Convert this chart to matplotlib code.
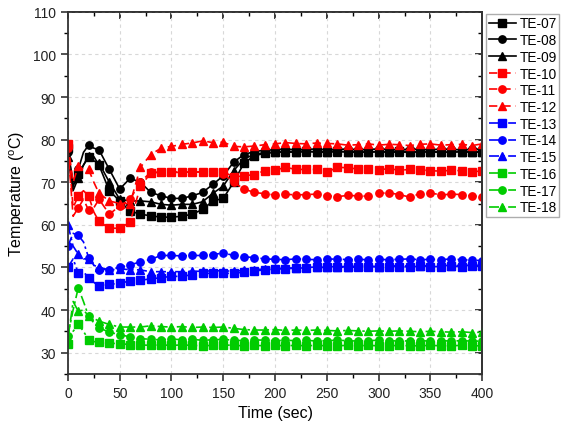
import matplotlib
matplotlib.use("Agg")
import matplotlib.pyplot as plt
from matplotlib.ticker import MultipleLocator, NullFormatter

plt.rcParams['font.family'] = ['Liberation Sans', 'DejaVu Sans']

# Sampling times (s)
time = [0, 5, 10, 15, 20, 25, 30, 40, 50, 60, 70, 80, 90, 100, 110, 120, 130, 140,
        150, 160, 170, 180, 190, 200, 210, 220, 230, 240, 250, 260, 270, 280, 290,
        300, 310, 320, 330, 340, 350, 360, 370, 380, 390, 400]

te07 = [78, 69, 72, 74, 76, 76, 74, 68, 65.6, 63.2, 62.5, 62.1, 61.8, 61.8, 62, 62.5,
        63.6, 65.6, 66.2, 70, 74.5, 76.2, 76.8, 77, 77.2, 77.2, 77.3, 77.1, 77.2, 77.3,
        77.1, 77.2, 77.0, 77.2, 77.1, 77.3, 77.2, 77.0, 77.2, 77.1, 77.0, 77.2, 77.1, 77.2]
te08 = [77, 70, 73, 77, 78.7, 78, 77.6, 73, 68.4, 70.9, 70, 67.6, 66.8, 66.2, 66.2, 66.8,
        67.6, 69.5, 71.5, 74.7, 76.5, 77.2, 77.5, 77.6, 77.8, 77.6, 77.7, 77.8, 77.6, 77.7,
        77.8, 77.6, 77.7, 77.8, 77.7, 77.6, 77.8, 77.7, 77.6, 77.8, 77.7, 77.6, 77.7, 77.8]
te09 = [76, 68, 71, 74, 76.2, 75, 74.5, 70, 66, 65.6, 65.6, 65.4, 64.8, 64.6, 64.8, 64.8,
        65.4, 67.4, 69.1, 72.7, 75.5, 76.5, 77, 77, 77.1, 77.0, 77.2, 77.1, 77.0, 77.2,
        77.1, 77.0, 77.1, 77.2, 77.0, 77.1, 77.0, 77.2, 77.1, 77.0, 77.1, 77.2, 77.0, 77.1]
te10 = [79, 64, 66.8, 68, 66.8, 63, 60.8, 59.2, 59.2, 60.6, 69, 72.2, 72.3, 72.4, 72.4,
        72.4, 72.4, 72.5, 72.5, 71.2, 71.5, 71.8, 72.7, 72.8, 73.5, 73.0, 73.0, 73.0, 72.3,
        73.5, 73.4, 73.1, 73.0, 72.9, 73.2, 72.8, 73.0, 72.9, 72.7, 72.6, 72.8, 72.7, 72.5, 72.6]
te11 = [78, 62, 64, 66, 63.4, 64, 66, 62.5, 64.4, 66, 70, 72.4, 72.4, 72.3, 72.3, 72.4,
        72.4, 72.3, 72, 70, 68.4, 67.6, 67.3, 67, 67.2, 67, 67.1, 67.2, 66.8, 66.6, 66.9,
        66.8, 66.7, 67.4, 67.5, 67.1, 66.5, 67.3, 67.5, 67, 67.2, 67.1, 66.8, 66.6]
te12 = [79, 70, 73.8, 73, 73, 70, 67.4, 65.6, 65, 65, 73.5, 76.5, 78, 78.4, 78.9, 79.2,
        79.7, 79.3, 79.4, 78.4, 78.3, 78.5, 78.8, 79, 79.3, 79.1, 79, 79.2, 79.1, 79, 78.7,
        78.8, 79, 78.7, 78.9, 78.8, 78.6, 78.9, 79, 78.7, 78.8, 78.9, 78.6, 79]
te13 = [50, 52, 48.7, 49, 47.5, 46.5, 45.6, 46, 46.3, 46.8, 47, 47.3, 47.6, 47.9, 47.9,
        48.3, 48.6, 48.6, 48.6, 48.6, 48.9, 49.2, 49.4, 49.6, 49.7, 49.8, 49.9, 50, 50,
        50.1, 50.0, 50.1, 50.2, 50.1, 50.2, 50.2, 50.1, 50.3, 50.2, 50.2, 50.3, 50.2, 50.3, 50.3]
te14 = [55, 58, 57.5, 56, 52.3, 50.5, 49.5, 49.5, 50, 50.6, 51.3, 51.9, 52.8, 52.8, 52.7,
        52.8, 52.8, 53, 53.4, 52.8, 52.5, 52.3, 52, 51.9, 51.8, 52.0, 51.9, 51.8, 51.9,
        52.0, 51.8, 51.9, 51.8, 51.9, 51.8, 51.9, 52.0, 51.8, 51.9, 51.8, 52.0, 51.8, 51.7, 51.6]
te15 = [60, 55, 53.1, 52, 52, 50.5, 50, 49.4, 49.6, 49.5, 49.4, 49, 49, 49, 49, 49.1,
        49.1, 49.2, 49.2, 49.1, 49.3, 49.5, 49.6, 49.8, 49.8, 49.9, 50, 50.1, 50.1, 50.2,
        50.2, 50.3, 50.3, 50.2, 50.3, 50.4, 50.3, 50.4, 50.4, 50.5, 50.4, 50.5, 50.5, 50.5]
te16 = [32, 35, 36.6, 35, 33, 32.6, 32.4, 32.2, 32.1, 31.9, 31.8, 31.7, 31.8, 31.7, 31.8,
        31.7, 31.6, 31.7, 31.8, 31.7, 31.6, 31.7, 31.6, 31.7, 31.6, 31.7, 31.6, 31.7, 31.6,
        31.6, 31.7, 31.6, 31.7, 31.6, 31.6, 31.7, 31.6, 31.6, 31.7, 31.6, 31.6, 31.7, 31.6, 31.6]
te17 = [34, 40, 45.2, 42, 38.5, 37, 35.8, 34.8, 34.2, 33.7, 33.3, 33.1, 33, 33.2, 33,
        33.1, 32.9, 33.0, 33.1, 32.9, 32.8, 33.0, 32.9, 32.8, 32.9, 32.8, 32.9, 32.7, 32.8,
        32.9, 32.8, 32.7, 32.8, 32.9, 32.7, 32.8, 32.7, 32.8, 32.7, 32.8, 32.7, 32.8, 32.7, 32.7]
te18 = [33, 42, 39.7, 40, 38.6, 38, 37.4, 36.6, 36, 36, 36, 36.3, 36.1, 36, 36.1, 35.9,
        36, 35.9, 36, 35.7, 35.4, 35.3, 35.3, 35.4, 35.2, 35.3, 35.2, 35.3, 35.2, 35.1,
        35.2, 35.1, 35.0, 35.1, 35.0, 35.1, 35.0, 34.9, 35.0, 34.9, 34.8, 34.9, 34.7, 34.8]

series = [
    ("TE-07", te07, "black", "-", "s"),
    ("TE-08", te08, "black", "-", "o"),
    ("TE-09", te09, "black", "-", "^"),
    ("TE-10", te10, "#FF0000", (0, (5, 3)), "s"),
    ("TE-11", te11, "#FF0000", (0, (5, 3)), "o"),
    ("TE-12", te12, "#FF0000", (0, (5, 3)), "^"),
    ("TE-13", te13, "#0000FF", (0, (6, 2, 1.5, 2)), "s"),
    ("TE-14", te14, "#0000FF", (0, (6, 2, 1.5, 2)), "o"),
    ("TE-15", te15, "#0000FF", (0, (6, 2, 1.5, 2)), "^"),
    ("TE-16", te16, "#00CC00", (0, (6, 2, 1.5, 2)), "s"),
    ("TE-17", te17, "#00CC00", (0, (6, 2, 1.5, 2)), "o"),
    ("TE-18", te18, "#00CC00", (0, (6, 2, 1.5, 2)), "^"),
]

marks = [i for i, t in enumerate(time) if t % 10 == 0]

fig = plt.figure(figsize=(5.66, 4.27), dpi=100)
ax = fig.add_axes([0.120, 0.122, 0.732, 0.848])

for name, vals, col, ls, mk in series:
    ax.plot(time, vals, color=col, linestyle=ls, linewidth=1.2, marker=mk,
            markersize=5.3, markevery=marks, label=name)

ax.set_xlim(0, 400)
ax.set_ylim(25, 110)
ax.xaxis.set_major_locator(MultipleLocator(50))
ax.xaxis.set_minor_locator(MultipleLocator(25))
ax.set_yticks(range(30, 111, 10))
ax.yaxis.set_minor_locator(MultipleLocator(5))

ax.grid(True, which='major', color='#d8d8d8', linestyle=(0, (3, 3)), linewidth=0.8)
ax.set_axisbelow(True)

for s in ax.spines.values():
    s.set_linewidth(1.3)
    s.set_color('#333333')

# Left/bottom ticks point outward
ax.tick_params(axis='both', which='major', direction='out', length=5, width=1.1,
               labelsize=10, colors='#222222')
ax.tick_params(axis='both', which='minor', direction='out', length=3, width=1.0)

# Top/right ticks point inward, without labels
top = ax.secondary_xaxis('top')
top.xaxis.set_major_locator(MultipleLocator(50))
top.xaxis.set_minor_locator(MultipleLocator(25))
top.xaxis.set_major_formatter(NullFormatter())
top.tick_params(which='major', direction='in', length=5, width=1.1)
top.tick_params(which='minor', direction='in', length=3, width=1.0)
top.spines['top'].set_linewidth(1.3)
top.spines['top'].set_color('#333333')

right = ax.secondary_yaxis('right')
right.set_yticks(range(30, 111, 10))
right.yaxis.set_minor_locator(MultipleLocator(5))
right.yaxis.set_major_formatter(NullFormatter())
right.tick_params(which='major', direction='in', length=5, width=1.1)
right.tick_params(which='minor', direction='in', length=3, width=1.0)
right.spines['right'].set_linewidth(1.3)
right.spines['right'].set_color('#333333')

ax.set_xlabel("Time (sec)", fontsize=11.5)
ax.set_ylabel(r"Temperature ($\mathregular{^o}$C)", fontsize=11.5)

leg = ax.legend(loc='upper left', bbox_to_anchor=(1.009, 0.995), fontsize=9.8,
                frameon=True, fancybox=False, edgecolor='#999999',
                handlelength=2.0, labelspacing=0.2, borderpad=0.2,
                handletextpad=0.25, borderaxespad=0.0)
leg.get_frame().set_linewidth(1.0)

fig.savefig("out.png", dpi=100)
